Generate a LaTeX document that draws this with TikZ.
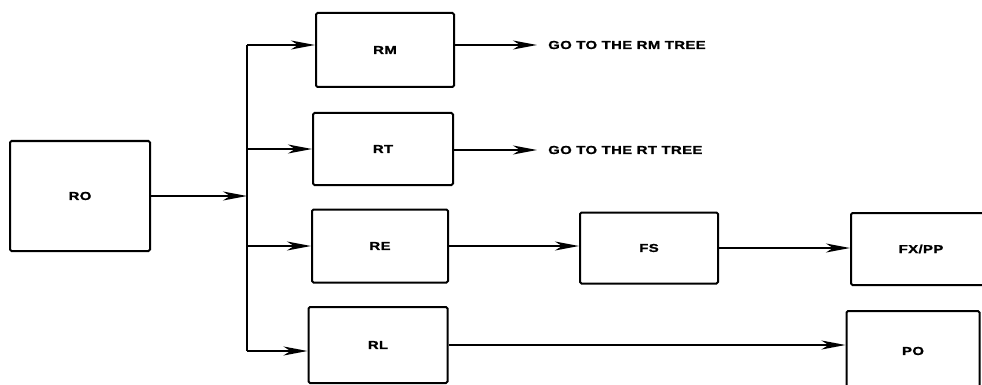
\documentclass[tikz,border=0pt]{standalone}
\usepackage{fontspec}
\newfontfamily\diagfont{Liberation Sans}[FakeStretch=1.3,LetterSpace=3,FakeBold=1]
\usetikzlibrary{arrows.meta}

\begin{document}
\begin{tikzpicture}[x=1pt,y=-1pt,
  box/.style={draw, line width=2pt, rounded corners=1.5pt, inner sep=0pt,
    font=\diagfont\bfseries\fontsize{11.5}{13}\selectfont},
  flow/.style={line width=1.8pt, -{Stealth[length=24pt,width=9pt,inset=7pt]}},
  note/.style={anchor=west, inner sep=0pt, font=\diagfont\bfseries\fontsize{11.5}{13}\selectfont}]
\useasboundingbox (0,0) rectangle (982,385);
\clip (0,0) rectangle (982,385);
\node[box, minimum width=140pt, minimum height=110pt] (RO) at (80,196) {RO};
\node[box, minimum width=138pt, minimum height=74pt] (RM) at (385,50) {RM};
\node[box, minimum width=140pt, minimum height=72pt] (RT) at (383,149) {RT};
\node[box, minimum width=136pt, minimum height=73pt] (RE) at (380,246) {RE};
\node[box, minimum width=139pt, minimum height=76pt] (RL) at (378,345) {RL};
\node[box, minimum width=138pt, minimum height=71pt] (FS) at (649,248) {FS};
\node[box, minimum width=140pt, minimum height=72pt] (FX) at (921,249) {FX/PP};
\node[box, minimum width=133pt, minimum height=80pt] (PO) at (913,351) {PO};
\node[note] (gRM) at (548,45) {GO TO THE RM TREE};
\node[note] (gRT) at (548,150) {GO TO THE RT TREE};
\coordinate (busTop) at (247,45);
\coordinate (busBot) at (247,351);
% bus from RO to the four branches
\draw[line width=1.8pt] (busTop) -- (busBot);
\draw[flow] (RO.east) -- (RO.east -| busTop);
\draw[flow] (busTop) -- (busTop -| RM.west);
\draw[flow] (RT.west -| busTop) -- (RT.west);
\draw[flow] (RE.west -| busTop) -- (RE.west);
\draw[flow] (busBot) -- (busBot -| RL.west);
% onward links
\draw[flow] (gRM -| RM.east) -- ([xshift=-11pt]gRM.west);
\draw[flow] (gRT -| RT.east) -- ([xshift=-11pt]gRT.west);
\draw[flow] (RE.east) -- (RE.east -| FS.west);
\draw[flow] (FS.east) -- (FS.east -| FX.west);
\draw[flow] (RL.east) -- (RL.east -| PO.west);
\end{tikzpicture}
\end{document}
